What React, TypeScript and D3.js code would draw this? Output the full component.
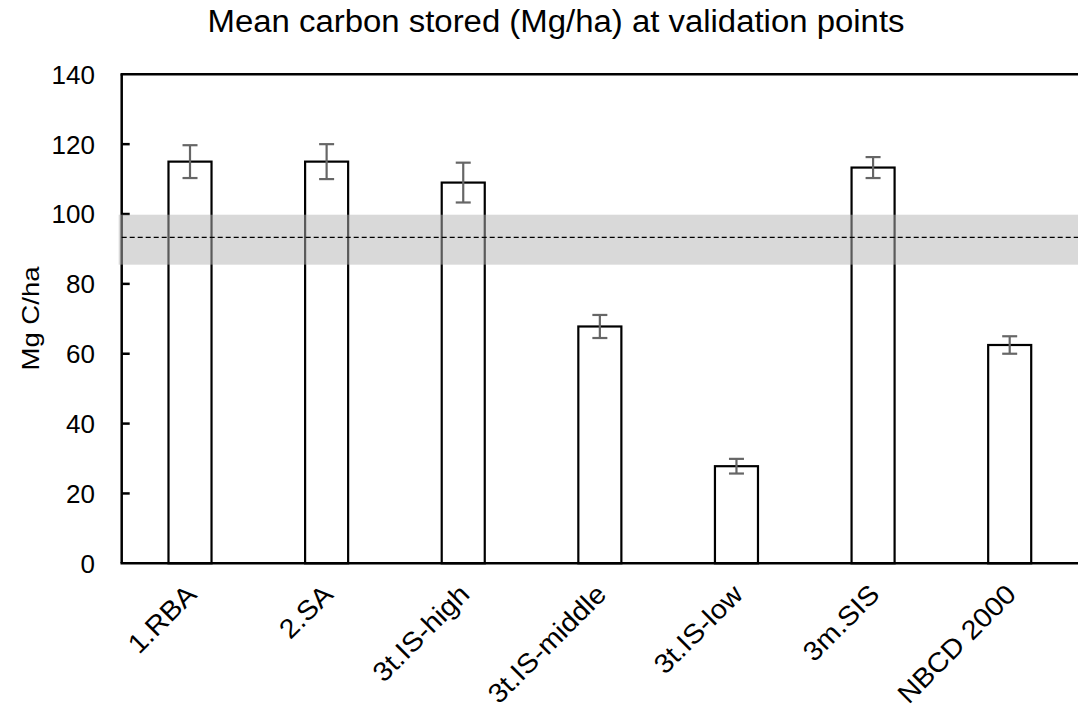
import React from 'react';
import * as d3 from 'd3';

const categories = ['1.RBA', '2.SA', '3t.IS-high', '3t.IS-middle', '3t.IS-low', '3m.SIS', 'NBCD 2000'];
const meanCarbon = [115, 115, 109, 67.8, 27.8, 113.3, 62.5];
const errorHalf = [4.7, 5, 5.7, 3.3, 2.1, 3, 2.5];
const yTicks = [0, 20, 40, 60, 80, 100, 120, 140];
// reference value with its range (grey band)
const refMean = 93.3;
const refLow = 85.5;
const refHigh = 99.8;

const W = 1078;
const H = 711;
const left = 121.7;
const right = 1078;
const top = 74.3;
const bottom = 563.3;
const font = '"Liberation Sans", Arial, sans-serif';

export default function App() {
  const x = d3.scaleBand<string>().domain(categories).range([left, right]).paddingInner(0.685).paddingOuter(0.3425);
  const y = d3.scaleLinear().domain([0, 140]).range([bottom, top]);
  const bw = x.bandwidth();

  return (
    <svg width={W} height={H} style={{ position: 'absolute', left: 0, top: 0, background: '#fff' }} fontFamily={font}>
      <text x={556} y={32} fontSize={31} textAnchor="middle" textLength={697} lengthAdjust="spacingAndGlyphs" fill="#000">
        Mean carbon stored (Mg/ha) at validation points
      </text>

      {/* bars */}
      {categories.map((c, i) => (
        <rect key={c} x={x(c)} y={y(meanCarbon[i])} width={bw} height={y(0) - y(meanCarbon[i])}
          fill="#fff" stroke="#000" strokeWidth={2.2} />
      ))}

      {/* axes frame */}
      <line x1={left} x2={left} y1={top} y2={bottom} stroke="#000" strokeWidth={2.5} />
      <line x1={left - 1.2} x2={right} y1={bottom} y2={bottom} stroke="#000" strokeWidth={2.5} />
      <line x1={left - 1.2} x2={right} y1={top} y2={top} stroke="#000" strokeWidth={2.5} />
      {yTicks.filter(t => t > 0 && t < 140).map(t => (
        <line key={t} x1={left} x2={left + 8} y1={y(t)} y2={y(t)} stroke="#000" strokeWidth={2.5} />
      ))}
      {yTicks.map(t => (
        <text key={t} x={95} y={y(t)} dy="0.36em" fontSize={26} textAnchor="end" fill="#000">{t}</text>
      ))}

      {/* reference band and mean */}
      <rect x={left - 3} y={y(refHigh)} width={right - left + 3} height={y(refLow) - y(refHigh)} fill="#b3b3b3" opacity={0.5} />
      <line x1={left} x2={right} y1={y(refMean)} y2={y(refMean)} stroke="#000" strokeWidth={1.2} strokeDasharray="5,3" />

      {/* error bars */}
      {categories.map((c, i) => {
        const cx = (x(c) as number) + bw / 2;
        const hi = y(meanCarbon[i] + errorHalf[i]);
        const lo = y(meanCarbon[i] - errorHalf[i]);
        return (
          <g key={c} stroke="#666" strokeWidth={2.2}>
            <line x1={cx} x2={cx} y1={hi} y2={lo} />
            <line x1={cx - 7.5} x2={cx + 7.5} y1={hi} y2={hi} />
            <line x1={cx - 7.5} x2={cx + 7.5} y1={lo} y2={lo} />
          </g>
        );
      })}

      {/* category labels */}
      {categories.map(c => {
        const cx = (x(c) as number) + bw / 2;
        return (
          <text key={c} transform={`translate(${cx + 8},${596}) rotate(-45) scale(1.07,1)`} fontSize={27} textAnchor="end" fill="#000">
            {c}
          </text>
        );
      })}

      <text transform={`translate(39,318.5) rotate(-90)`} fontSize={24} textAnchor="middle" textLength={104} lengthAdjust="spacingAndGlyphs" fill="#000">
        Mg C/ha
      </text>
    </svg>
  );
}
